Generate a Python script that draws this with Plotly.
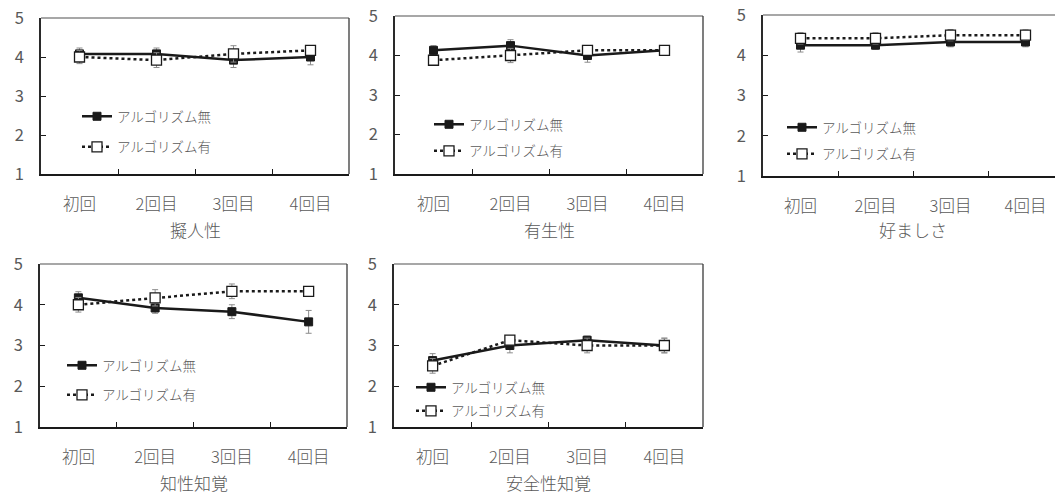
import plotly.graph_objects as go

# Session labels on the x axis
categories = ["初回", "2回目", "3回目", "4回目"]
panel_titles = ["擬人性", "有生性", "好ましさ", "知性知覚", "安全性知覚"]
series_names = ["アルゴリズム無", "アルゴリズム有"]
y_ticks = [1, 2, 3, 4, 5]

# Mean ratings and standard errors per panel
anthro_without = [4.08, 4.08, 3.92, 4.00]
anthro_without_err = [0.15, 0.15, 0.19, 0.20]
anthro_with = [4.00, 3.92, 4.08, 4.17]
anthro_with_err = [0.17, 0.19, 0.21, 0.10]

animacy_without = [4.13, 4.25, 4.00, 4.13]
animacy_without_err = [0.12, 0.15, 0.17, 0.08]
animacy_with = [3.88, 4.00, 4.13, 4.13]
animacy_with_err = [0.10, 0.18, 0.10, 0.08]

likeability_without = [4.25, 4.25, 4.33, 4.33]
likeability_without_err = [0.17, 0.10, 0.12, 0.12]
likeability_with = [4.42, 4.42, 4.50, 4.50]
likeability_with_err = [0.14, 0.14, 0.14, 0.13]

intelligence_without = [4.17, 3.92, 3.83, 3.58]
intelligence_without_err = [0.15, 0.13, 0.17, 0.28]
intelligence_with = [4.00, 4.17, 4.33, 4.33]
intelligence_with_err = [0.18, 0.20, 0.18, 0.10]

safety_without = [2.63, 3.00, 3.13, 3.00]
safety_without_err = [0.17, 0.18, 0.10, 0.18]
safety_with = [2.50, 3.13, 3.00, 3.00]
safety_with_err = [0.18, 0.10, 0.18, 0.18]

panels = [
    (anthro_without, anthro_without_err, anthro_with, anthro_with_err),
    (animacy_without, animacy_without_err, animacy_with, animacy_with_err),
    (likeability_without, likeability_without_err, likeability_with, likeability_with_err),
    (intelligence_without, intelligence_without_err, intelligence_with, intelligence_with_err),
    (safety_without, safety_without_err, safety_with, safety_with_err),
]

W, H = 1055, 496
FONT = "Noto Sans CJK JP"
GREY = "#595959"

# Plot boxes in pixels: left, right, top, bottom
boxes = [
    (41, 349, 18, 174),
    (395, 703, 16, 174),
    (763, 1063, 15, 176),
    (40, 347, 264, 427),
    (394, 703, 264, 427),
]
# Legend anchor (left, top) in pixels and gap between the two entries
legend_pos = [
    (77, 101, 10),
    (429, 109, 6),
    (782, 112, 6),
    (62, 350, 9),
    (411, 372, 3),
]
title_y = [229, 229, 229, 482, 482]
show_right = [True, True, False, True, True]

fig = go.Figure()
shapes = []
annotations = []

for i, (wo, wo_e, wi, wi_e) in enumerate(panels):
    n = i + 1
    xa = "x" if n == 1 else f"x{n}"
    ya = "y" if n == 1 else f"y{n}"
    lg = "legend" if n == 1 else f"legend{n}"
    l, r, t, b = boxes[i]

    fig.add_trace(go.Scatter(
        x=categories, y=wo, name=series_names[0], xaxis=xa, yaxis=ya,
        mode="lines+markers", legend=lg, legendgroup=f"a{n}",
        line=dict(color="#1a1a1a", width=2.5),
        marker=dict(symbol="square", size=8, color="#1a1a1a",
                    line=dict(color="#1a1a1a", width=1)),
        error_y=dict(type="data", array=wo_e, color="#8c8c8c",
                     thickness=1, width=3),
    ))
    fig.add_trace(go.Scatter(
        x=categories, y=wi, name=series_names[1], xaxis=xa, yaxis=ya,
        mode="lines+markers", legend=lg, legendgroup=f"b{n}",
        line=dict(color="#1a1a1a", width=2.5, dash="dot"),
        marker=dict(symbol="square", size=10, color="white",
                    line=dict(color="#1a1a1a", width=1.3)),
        error_y=dict(type="data", array=wi_e, color="#8c8c8c",
                     thickness=1, width=3),
    ))

    dom_x = [l / W, min(r, W) / W]
    dom_y = [1 - b / H, 1 - t / H]
    spacing = (r - l) / 4.0
    x_end = -0.5 + (min(r, W) - l) / spacing

    fig.layout[f"xaxis{'' if n == 1 else n}"] = dict(
        domain=dom_x, anchor=ya, type="category",
        range=[-0.5, x_end], tickson="boundaries",
        ticks="inside", ticklen=5, tickcolor="#1a1a1a", tickwidth=1,
        showline=True, linecolor="#1a1a1a", linewidth=2,
        showgrid=False, zeroline=False, fixedrange=True,
        tickfont=dict(family=FONT, size=16.5, color=GREY, weight=300),
        ticklabelstandoff=14,
    )
    fig.layout[f"yaxis{'' if n == 1 else n}"] = dict(
        domain=dom_y, anchor=xa, range=[1, 5],
        tickvals=y_ticks, ticks="inside", ticklen=5,
        tickcolor="#1a1a1a", tickwidth=1,
        showline=True, linecolor="#2a2a2a", linewidth=1.5,
        showgrid=False, zeroline=False, fixedrange=True,
        tickfont=dict(family=FONT, size=16.5, color=GREY),
        ticklabelstandoff=12,
    )

    # Upper and right frame lines
    shapes.append(dict(type="line", xref="paper", yref="paper",
                       x0=dom_x[0], x1=min(r, W) / W, y0=dom_y[1], y1=dom_y[1],
                       line=dict(color="#8a8a8a", width=1.5)))
    if show_right[i]:
        shapes.append(dict(type="line", xref="paper", yref="paper",
                           x0=dom_x[1], x1=dom_x[1], y0=dom_y[0], y1=dom_y[1],
                           line=dict(color="#3a3a3a", width=1.3)))

    annotations.append(dict(
        text=panel_titles[i], xref="paper", yref="paper",
        x=(l + r) / 2 / W if show_right[i] else (l + 1063) / 2 / W,
        y=1 - title_y[i] / H, xanchor="center", yanchor="middle",
        showarrow=False, font=dict(family=FONT, size=17, color=GREY, weight=300),
    ))

    lx, ly, gap = legend_pos[i]
    fig.layout[lg] = dict(
        x=lx / W, y=1 - ly / H, xanchor="left", yanchor="top",
        bgcolor="rgba(0,0,0,0)", borderwidth=0,
        font=dict(family=FONT, size=13.5, color=GREY, weight=300),
        tracegroupgap=gap, itemclick=False, itemdoubleclick=False,
    )

fig.update_layout(
    width=W, height=H,
    margin=dict(l=0, r=0, t=0, b=0, autoexpand=False),
    paper_bgcolor="white", plot_bgcolor="white",
    shapes=shapes, annotations=annotations,
    font=dict(family=FONT, color=GREY),
    showlegend=True,
)

fig.write_html("out.html", config={"displayModeBar": False})
